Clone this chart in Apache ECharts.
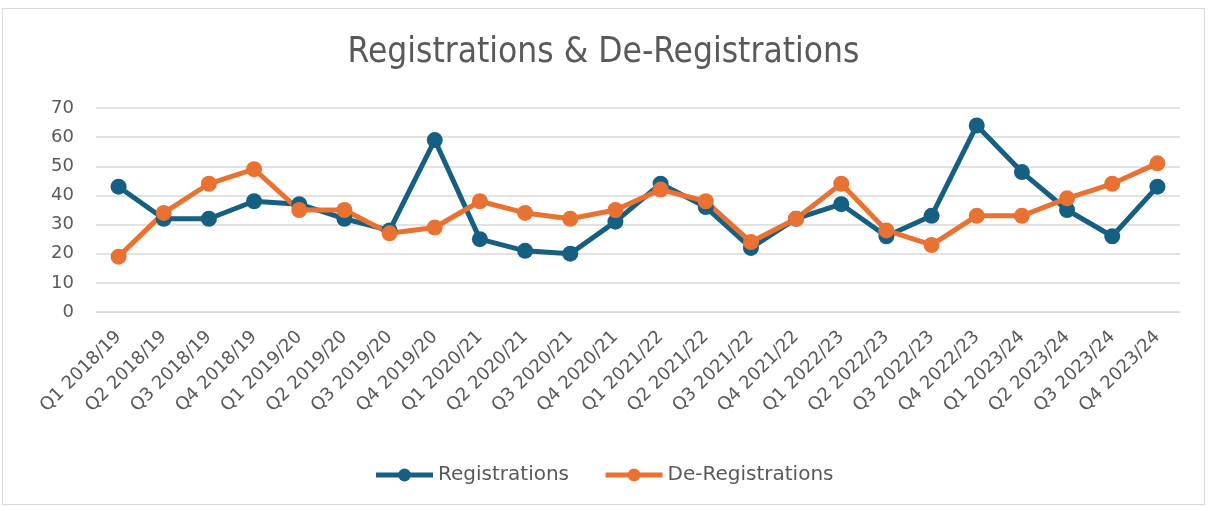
<!DOCTYPE html>
<html>
<head>
<meta charset="utf-8">
<script src="https://cdn.jsdelivr.net/npm/echarts@6/dist/echarts.min.js"></script>
<style>
    html, body { margin: 0; padding: 0; background: #fff; }
    #chart {
        position: absolute;
        left: 2px; top: 8px;
        width: 1203px; height: 497px;
        border: 1px solid #d9d9d9;
        box-sizing: border-box;
    }
</style>
</head>
<body>
<div id="chart"></div>
<script>
    const quarters = ['Q1 2018/19', 'Q2 2018/19', 'Q3 2018/19', 'Q4 2018/19',
        'Q1 2019/20', 'Q2 2019/20', 'Q3 2019/20', 'Q4 2019/20',
        'Q1 2020/21', 'Q2 2020/21', 'Q3 2020/21', 'Q4 2020/21',
        'Q1 2021/22', 'Q2 2021/22', 'Q3 2021/22', 'Q4 2021/22',
        'Q1 2022/23', 'Q2 2022/23', 'Q3 2022/23', 'Q4 2022/23',
        'Q1 2023/24', 'Q2 2023/24', 'Q3 2023/24', 'Q4 2023/24'];
    const registrations = [43, 32, 32, 38, 37, 32, 28, 59, 25, 21, 20, 31,
        44, 36, 22, 32, 37, 26, 33, 64, 48, 35, 26, 43];
    const deRegistrations = [19, 34, 44, 49, 35, 35, 27, 29, 38, 34, 32, 35,
        42, 38, 24, 32, 44, 28, 23, 33, 33, 39, 44, 51];

    const textColor = '#595959';
    const font = 'DejaVu Sans, Liberation Sans, sans-serif';
    let myChart = echarts.init(document.getElementById('chart'));

    function lineSeries(name, data, color) {
        return {
            name: name,
            type: 'line',
            data: data,
            symbol: 'circle',
            symbolSize: 16,
            color: color,
            lineStyle: { width: 5, color: color },
            itemStyle: { color: color },
            emphasis: { disabled: true }
        };
    }

    myChart.setOption({
        animation: false,
        textStyle: { fontFamily: font },
        title: {
            text: 'Registrations & De-Registrations',
            left: 'center',
            top: 21,
            textStyle: {
                fontFamily: 'DejaVu Sans Condensed, Liberation Sans, sans-serif',
                fontWeight: 'normal',
                fontSize: 35,
                color: textColor
            }
        },
        legend: {
            bottom: 14,
            left: 'center',
            itemWidth: 57,
            itemHeight: 16,
            itemGap: 34,
            lineStyle: { width: 5 },
            textStyle: { fontSize: 20, color: textColor, fontFamily: font },
            data: ['Registrations', 'De-Registrations']
        },
        grid: {
            left: 93,
            right: 24,
            top: 99,
            bottom: 192,
            containLabel: false
        },
        xAxis: {
            type: 'category',
            data: quarters,
            boundaryGap: true,
            axisLine: { show: true, lineStyle: { color: '#d9d9d9', width: 1 } },
            axisTick: { show: false },
            axisLabel: {
                rotate: 45,
                interval: 0,
                fontSize: 18,
                color: textColor,
                margin: 22
            }
        },
        yAxis: {
            type: 'value',
            min: 0,
            max: 70,
            interval: 10,
            axisLine: { show: false },
            axisTick: { show: false },
            axisLabel: { fontSize: 18, color: textColor, margin: 22 },
            splitLine: { lineStyle: { color: '#d9d9d9', width: 1.5 } }
        },
        series: [
            lineSeries('Registrations', registrations, '#156082'),
            lineSeries('De-Registrations', deRegistrations, '#E97132')
        ]
    });
</script>
</body>
</html>
